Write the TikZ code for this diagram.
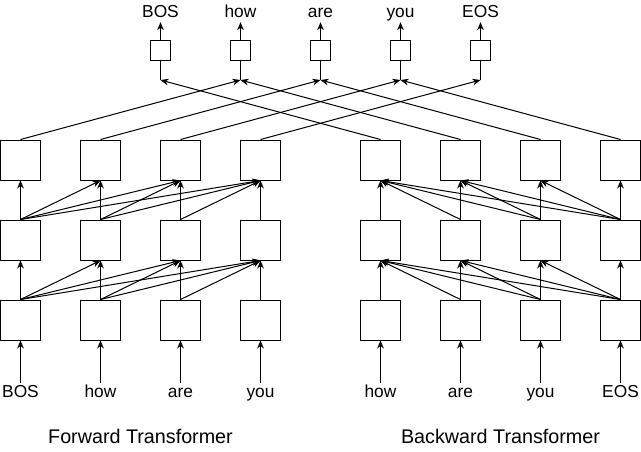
\documentclass[tikz,border=0pt]{standalone}
\usepackage{fontspec}
\setmainfont{Liberation Sans}
\usepackage{tikz}
\usetikzlibrary{arrows.meta}
\tikzstyle{cell}=[draw, minimum size=30pt, inner sep=0pt]
\tikzstyle{outcell}=[draw, minimum size=15pt, inner sep=0pt]
\tikzstyle{word}=[inner sep=1pt, text height=9.5pt, text depth=2.5pt, font=\fontsize{13}{15}\selectfont]
\tikzstyle{title}=[inner sep=1pt, font=\fontsize{14.8}{17}\selectfont]
\tikzstyle{link}=[-{Stealth[length=6pt,width=5pt]}]

\begin{document}
\begin{tikzpicture}[x=0.75pt, y=-0.75pt, line width=0.75pt]
\useasboundingbox (-0.5,0) rectangle (640.5,451);
% boxes of both transformers
\foreach \i in {0,...,3} {
	\foreach \r/\y in {1/320,2/240,3/160} {
		\node[cell] (f\r\i) at (20+80*\i,\y) {};
		\node[cell] (b\r\i) at (380+80*\i,\y) {};
	}
}
% inputs
\foreach \w [count=\i from 0] in {BOS,how,are,you} {
	\node[word, anchor=base] (fin\i) at (20+80*\i,397) {\w};
	\draw[link] (fin\i.north) -- (f1\i.south);
}
\foreach \w [count=\i from 0] in {how,are,you,EOS} {
	\node[word, anchor=base] (bin\i) at (380+80*\i,397) {\w};
	\draw[link] (bin\i.north) -- (b1\i.south);
}
% connections between layers
\foreach \r/\s in {1/2,2/3} {
	\foreach \i in {0,...,3} {
		\foreach \j in {\i,...,3}
			\draw[link] (f\r\i.north) -- (f\s\j.south);
		\foreach \j in {0,...,\i}
			\draw[link] (b\r\i.north) -- (b\s\j.south);
	}
}
% outputs
\foreach \w [count=\k from 0] in {BOS,how,are,you,EOS} {
	\node[outcell] (o\k) at (160+80*\k,50) {};
	\node[word, anchor=base] (w\k) at (160+80*\k,17) {\w};
	\coordinate (j\k) at (160+80*\k,80);
	\draw (o\k.south) -- (j\k);
	\draw[link] (o\k.north) -- (w\k.south);
}
\foreach \i [count=\k from 1] in {0,...,3} {
	\draw[link] (f3\i.north) -- (j\k);
	\draw[link] (b3\i.north) -- (j\i);
}
\node[title, anchor=base] (ftitle) at (140,443) {Forward Transformer};
\node[title, anchor=base] (btitle) at (500,443) {Backward Transformer};
\end{tikzpicture}
\end{document}
